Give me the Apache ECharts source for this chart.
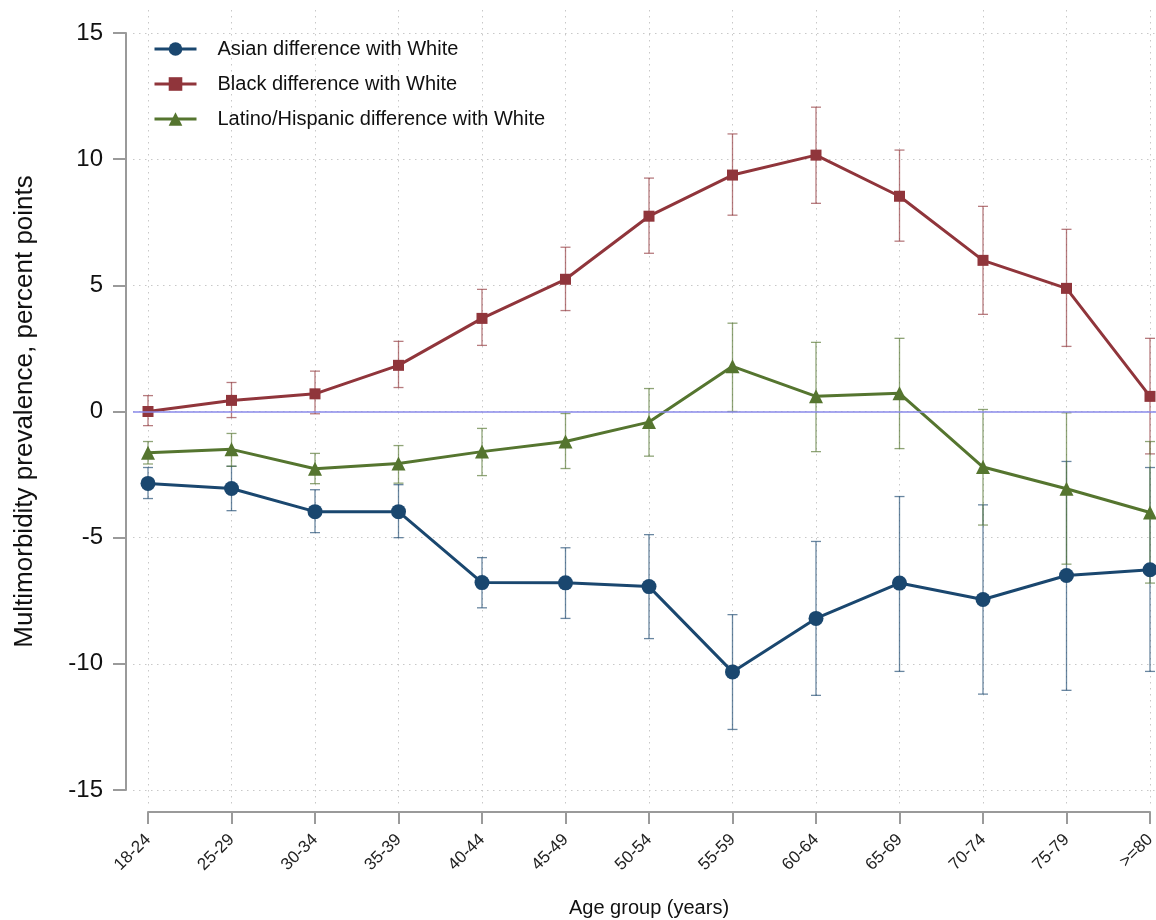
<!DOCTYPE html>
<html><head><meta charset="utf-8">
<script src="https://cdn.jsdelivr.net/npm/echarts@6/dist/echarts.min.js"></script>
<style>html,body{margin:0;padding:0;background:#fff}#c{width:1156px;height:920px}</style>
</head><body><div id="c"></div>
<script>
const categories = ['18-24','25-29','30-34','35-39','40-44','45-49','50-54','55-59','60-64','65-69','70-74','75-79','>=80'];
const yMin = -15, yMax = 15, yInterval = 5;

const asianEst  = [-2.85,-3.05,-3.97,-3.97,-6.78,-6.79,-6.94,-10.32,-8.2,-6.8,-7.45,-6.5,-6.27];
const asianLow  = [-3.45,-3.93,-4.8,-5.0,-7.78,-8.2,-9.0,-12.6,-11.25,-10.3,-11.2,-11.05,-10.3];
const asianHigh = [-2.22,-2.17,-3.1,-2.9,-5.79,-5.4,-4.88,-8.05,-5.15,-3.37,-3.7,-1.98,-2.22];

const blackEst  = [0.0,0.44,0.7,1.83,3.69,5.24,7.74,9.37,10.16,8.53,5.99,4.88,0.6];
const blackLow  = [-0.56,-0.24,-0.09,0.95,2.62,4.0,6.27,7.78,8.25,6.75,3.85,2.58,-1.68];
const blackHigh = [0.63,1.15,1.6,2.78,4.84,6.51,9.25,11.0,12.06,10.36,8.13,7.22,2.9];

const latinoEst  = [-1.63,-1.5,-2.27,-2.06,-1.59,-1.19,-0.42,1.79,0.6,0.72,-2.2,-3.06,-4.0];
const latinoLow  = [-2.08,-2.17,-2.86,-2.84,-2.54,-2.26,-1.77,0.0,-1.59,-1.47,-4.5,-6.05,-6.8];
const latinoHigh = [-1.19,-0.87,-1.66,-1.35,-0.67,-0.08,0.91,3.5,2.74,2.9,0.08,-0.05,-1.19];

const seriesNames = ['Asian difference with White','Black difference with White','Latino/Hispanic difference with White'];
const colors = ['#1a476f','#90353b','#55752f'];
const symbols = ['circle','rect','triangle'];
const symbolSizes = [15,11,14];
const FONT = '"Liberation Sans", Arial, sans-serif';

const chart = echarts.init(document.getElementById('c'), null, {renderer:'canvas'});

function errorSeries(name, low, high, color){
  return {
    type:'custom', name: name, xAxisIndex:0, yAxisIndex:0, z:2, silent:true,
    data: low.map((l,i)=>[i,l,high[i]]),
    encode:{x:0,y:[1,2]},
    renderItem: function(params, api){
      const x = api.value(0);
      const p1 = api.coord([x, api.value(1)]);
      const p2 = api.coord([x, api.value(2)]);
      const hw = 5;
      const st = {stroke: color, lineWidth: 1.3, opacity: 0.65};
      return {type:'group', children:[
        {type:'line', shape:{x1:p1[0],y1:p1[1],x2:p2[0],y2:p2[1]}, style: st},
        {type:'line', shape:{x1:p1[0]-hw,y1:p1[1],x2:p1[0]+hw,y2:p1[1]}, style: st},
        {type:'line', shape:{x1:p2[0]-hw,y1:p2[1],x2:p2[0]+hw,y2:p2[1]}, style: st}
      ]};
    }
  };
}
function lineSeries(idx, est){
  return {
    type:'line', name: seriesNames[idx], xAxisIndex:0, yAxisIndex:0, z:3,
    data: est, symbol: symbols[idx], symbolSize: symbolSizes[idx], showSymbol:true,
    lineStyle:{color: colors[idx], width:3},
    itemStyle:{color: colors[idx], opacity:1},
    emphasis:{disabled:true}
  };
}

const gridLineStyle = {color:'#c8c8c8', width:1, type:[1.5,4.5]};

chart.setOption({
  animation:false,
  backgroundColor:'#fff',
  textStyle:{fontFamily: FONT},
  grid:[
    {left:148, right:6, top:33, bottom:130, outerBoundsMode:'none', containLabel:false},
    {left:148, right:6, top:10, bottom:115, outerBoundsMode:'none', containLabel:false},
    {left:133, right:0, top:33, bottom:130, outerBoundsMode:'none', containLabel:false}
  ],
  legend:{
    data: seriesNames,
    orient:'vertical', left:148, top:34,
    itemWidth:42, itemHeight:17, itemGap:15,
    lineStyle:{width:3},
    textStyle:{fontSize:20, color:'#111', fontFamily: FONT, padding:[0,0,0,16]}
  },
  xAxis:[
    {gridIndex:0, type:'category', data: categories, boundaryGap:false, offset:22,
     axisLine:{onZero:false, lineStyle:{color:'#9a9a9a', width:2}},
     axisTick:{show:true, length:12, alignWithLabel:true, lineStyle:{color:'#9a9a9a', width:2}},
     axisLabel:{rotate:45, fontSize:17, color:'#222', margin:25, fontFamily: FONT, interval:0},
     splitLine:{show:false},
     name:'Age group (years)', nameLocation:'middle', nameGap:86,
     nameTextStyle:{fontSize:20, color:'#111', fontFamily: FONT}},
    {gridIndex:1, type:'category', data: categories, boundaryGap:false,
     axisLine:{show:false, onZero:false}, axisTick:{show:false}, axisLabel:{show:false},
     splitLine:{show:true, interval:0, lineStyle: gridLineStyle}},
    {gridIndex:2, type:'value', min:0, max:1,
     axisLine:{show:false, onZero:false}, axisTick:{show:false}, axisLabel:{show:false}, splitLine:{show:false}}
  ],
  yAxis:[
    {gridIndex:0, type:'value', min:yMin, max:yMax, interval:yInterval, offset:22,
     axisLine:{show:true, onZero:false, lineStyle:{color:'#9a9a9a', width:2}},
     axisTick:{show:true, length:13, lineStyle:{color:'#9a9a9a', width:2}},
     axisLabel:{fontSize:24, color:'#111', margin:23, fontFamily: FONT},
     splitLine:{show:false},
     name:'Multimorbidity prevalence, percent points', nameLocation:'middle', nameGap:88,
     nameTextStyle:{fontSize:26, color:'#111', fontFamily: FONT}},
    {gridIndex:1, type:'value', min:0, max:1,
     axisLine:{show:false, onZero:false}, axisTick:{show:false}, axisLabel:{show:false}, splitLine:{show:false}},
    {gridIndex:2, type:'value', min:yMin, max:yMax, interval:yInterval,
     axisLine:{show:false, onZero:false}, axisTick:{show:false}, axisLabel:{show:false},
     splitLine:{show:true, lineStyle: gridLineStyle}}
  ],
  series:[
    {type:'line', name:'zero', xAxisIndex:2, yAxisIndex:2, data:[], z:1, silent:true,
     markLine:{silent:true, symbol:'none', label:{show:false},
       lineStyle:{color:'#8a8aea', width:1.5, type:'solid'}, data:[{yAxis:0}]}},
    errorSeries('asianCI', asianLow, asianHigh, colors[0]),
    errorSeries('blackCI', blackLow, blackHigh, colors[1]),
    errorSeries('latinoCI', latinoLow, latinoHigh, colors[2]),
    lineSeries(0, asianEst),
    lineSeries(1, blackEst),
    lineSeries(2, latinoEst)
  ]
});
</script></body></html>
